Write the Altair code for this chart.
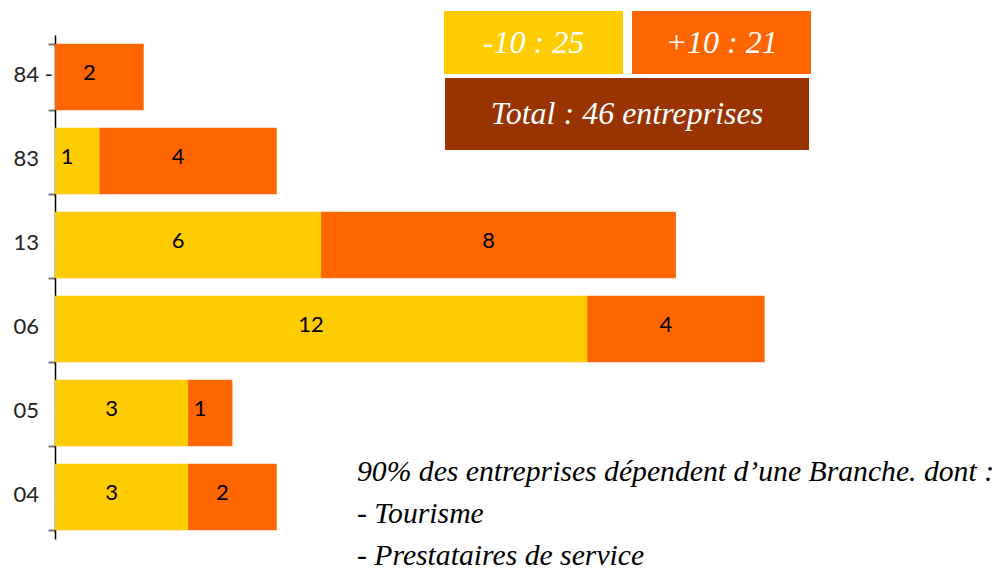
import altair as alt
import pandas as pd

# ---- data ----
categories = ["84 -", "83", "13", "06", "05", "04"]
moins_10 = [0, 1, 6, 12, 3, 3]
plus_10 = [2, 4, 8, 4, 1, 2]
series_names = ["-10", "+10"]
series_colors = ["#FFCC00", "#FF6600"]
total_color = "#993300"
note_lines = [
    "90% des entreprises dépendent d’une Branche. dont :",
    "- Tourisme",
    "- Prestataires de service",
]

rows = []
for i, c in enumerate(categories):
    rows.append({"cat": c, "serie": series_names[0], "ordre": 0, "val": moins_10[i]})
    rows.append({"cat": c, "serie": series_names[1], "ordre": 1, "val": plus_10[i]})
df = pd.DataFrame(rows)

W, H = 887, 504
LABEL_FONT = "Lato"
SCRIPT_FONT = "Liberation Serif"

y_enc = alt.Y(
    "cat:N",
    sort=categories,
    scale=alt.Scale(paddingInner=0.21),
    axis=alt.Axis(
        title=None,
        domainColor="black",
        domainWidth=1.5,
        tickColor="#777777",
        tickSize=7,
        tickWidth=2,
        tickBand="extent",
        labelAlign="left",
        labelBaseline="middle",
        labelPadding=35,
        labelOffset=-3,
        labelFont=LABEL_FONT,
        labelFontSize=22,
        labelColor="#222222",
    ),
)
x_scale = alt.Scale(domain=[0, 20], nice=False, zero=True)

base = (
    alt.Chart(df)
    .transform_stack(
        stack="val", groupby=["cat"], as_=["x0", "x1"], sort=[alt.SortField("ordre")]
    )
    .transform_filter("datum.val > 0")
    .transform_calculate(mid="(datum.x0 + datum.x1) / 2")
)

bars = base.mark_bar().encode(
    x=alt.X("x0:Q", scale=x_scale, axis=None),
    x2="x1:Q",
    y=y_enc,
    color=alt.Color(
        "serie:N",
        scale=alt.Scale(domain=series_names, range=series_colors),
        legend=None,
    ),
)

labels = base.mark_text(
    font=LABEL_FONT, fontSize=22, color="black", dx=-10, dy=-4
).encode(
    x=alt.X("mid:Q", scale=x_scale, axis=None),
    y=y_enc,
    text="val:Q",
)

n_moins = sum(moins_10)
n_plus = sum(plus_10)
box_df = pd.DataFrame(
    {
        "t": [
            f"{series_names[0]} : {n_moins}",
            f"{series_names[1]} : {n_plus}",
            f"Total : {n_moins + n_plus} entreprises",
        ]
    }
)


def box(idx, x1, x2, y1, y2, color):
    d = box_df.iloc[[idx]]
    r = alt.Chart(d).mark_rect(color=color).encode(
        x=alt.value(x1), x2=alt.value(x2), y=alt.value(y1), y2=alt.value(y2)
    )
    t = alt.Chart(d).mark_text(
        font=SCRIPT_FONT, fontStyle="italic", fontSize=32, color="white",
        align="center", baseline="middle",
    ).encode(
        x=alt.value((x1 + x2) / 2), y=alt.value((y1 + y2) / 2), text="t:N"
    )
    return r + t


note = alt.Chart(pd.DataFrame({"t": ["\n".join(note_lines)]})).mark_text(
    font=SCRIPT_FONT, fontStyle="italic", fontSize=29.7, color="black",
    align="left", baseline="alphabetic", lineBreak="\n", lineHeight=42,
).encode(x=alt.value(302), y=alt.value(446), text="t:N")

chart = (
    alt.layer(
        bars,
        labels,
        box(0, 389, 568, -24, 39, series_colors[0]),
        box(1, 577, 756, -24, 39, series_colors[1]),
        box(2, 390, 754, 43, 115, total_color),
        note,
    )
    .properties(
        width=W,
        height=H,
        autosize=alt.AutoSizeParams(type="none"),
        padding={"left": 55, "top": 35, "right": 60, "bottom": 32},
        background="white",
    )
    .configure_view(stroke=None)
)

chart.save("out.html", embed_options={"renderer": "svg", "actions": False})
